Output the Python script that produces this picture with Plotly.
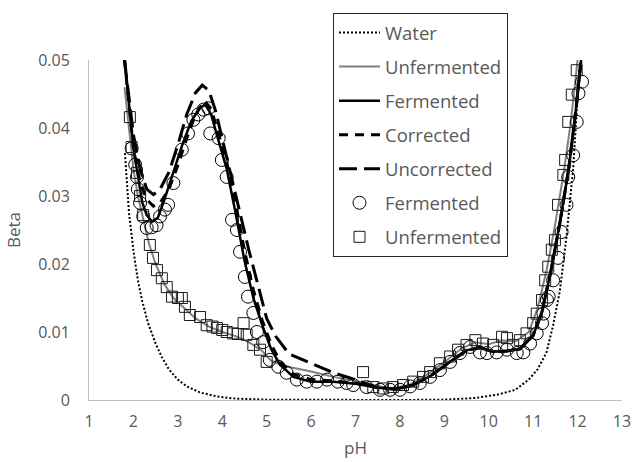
import plotly.graph_objects as go

# ---------------- data ----------------
water_ph = [1.81, 1.9, 2.0, 2.1, 2.2, 2.33, 2.5, 2.64, 2.8, 3.0, 3.2, 3.5, 3.9, 4.3, 5.0, 6.0,
            7.0, 8.0, 9.0, 9.7, 10.2, 10.6, 10.9, 11.1, 11.3, 11.45, 11.6, 11.75, 11.9, 12.05]
water_beta = [0.0363, 0.0275, 0.0220, 0.0176, 0.0145, 0.0113, 0.0083, 0.0063, 0.0045, 0.0030,
              0.0020, 0.0011, 0.0005, 0.0002, 0.00005, 0.0, 0.0, 0.0, 0.00005, 0.0003, 0.0008,
              0.0015, 0.0030, 0.0045, 0.0070, 0.0110, 0.0160, 0.0240, 0.0340, 0.0496]

unf_line_ph = [1.80, 1.9, 2.0, 2.1, 2.2, 2.35, 2.5, 2.7, 2.9, 3.1, 3.4, 3.7, 4.0, 4.3, 4.6, 4.9,
               5.1, 5.4, 6.0, 6.5, 7.0, 7.4, 7.8, 8.2, 8.6, 9.0, 9.4, 9.7, 10.0, 10.3, 10.6,
               10.9, 11.1, 11.3, 11.5, 11.7, 11.85, 12.0]
unf_line_beta = [0.046, 0.040, 0.034, 0.030, 0.027, 0.023, 0.020, 0.0170, 0.0150, 0.0138, 0.0120,
                 0.0108, 0.0100, 0.0094, 0.0085, 0.0072, 0.0058, 0.0050, 0.0042, 0.0034, 0.0028,
                 0.0022, 0.0017, 0.0022, 0.0037, 0.0056, 0.0076, 0.0085, 0.0082, 0.0088, 0.0086,
                 0.0100, 0.0135, 0.0190, 0.0260, 0.0340, 0.0410, 0.0500]

ferm_line_ph = [1.80, 1.9, 2.0, 2.1, 2.2, 2.3, 2.42, 2.55, 2.7, 2.9, 3.1, 3.3, 3.5, 3.62, 3.75,
                3.9, 4.1, 4.3, 4.5, 4.7, 4.9, 5.1, 5.3, 5.6, 6.0, 6.5, 7.0, 7.5, 7.9, 8.3, 8.7,
                9.1, 9.5, 9.8, 10.1, 10.4, 10.7, 11.0, 11.2, 11.4, 11.6, 11.8, 11.95, 12.08]
ferm_line_beta = [0.050, 0.043, 0.037, 0.033, 0.029, 0.0272, 0.0262, 0.0268, 0.0295, 0.0335,
                  0.0375, 0.0410, 0.0430, 0.0434, 0.0420, 0.0385, 0.0340, 0.0275, 0.0205,
                  0.0150, 0.0110, 0.0075, 0.0052, 0.0034, 0.0027, 0.0027, 0.0024, 0.0018,
                  0.0016, 0.0022, 0.0036, 0.0055, 0.0073, 0.0077, 0.0071, 0.0072, 0.0075,
                  0.0095, 0.0130, 0.0190, 0.0260, 0.0340, 0.0420, 0.0500]

tail_ph = [7.5, 7.9, 8.3, 8.7, 9.1, 9.5, 9.8, 10.1, 10.4, 10.7, 11.0, 11.2, 11.4, 11.6, 11.8,
           11.95, 12.08]
tail_beta = [0.0018, 0.0016, 0.0022, 0.0036, 0.0055, 0.0073, 0.0077, 0.0071, 0.0072, 0.0075,
             0.0095, 0.0130, 0.0190, 0.0260, 0.0340, 0.0420, 0.0500]

corr_ph = [1.80, 1.9, 2.0, 2.15, 2.3, 2.45, 2.6, 2.8, 3.0, 3.2, 3.4, 3.6, 3.75, 3.9, 4.1, 4.3,
           4.5, 4.7, 4.9, 5.1, 5.3, 5.6, 6.0, 6.5, 7.0] + tail_ph
corr_beta = [0.050, 0.043, 0.037, 0.032, 0.0295, 0.0285, 0.0290, 0.0310, 0.0345, 0.0385, 0.0420,
             0.0440, 0.0428, 0.0395, 0.0350, 0.0290, 0.0220, 0.0162, 0.0117, 0.0082, 0.0057,
             0.0038, 0.0030, 0.0028, 0.0025] + tail_beta

uncorr_ph = [1.80, 1.9, 2.0, 2.15, 2.3, 2.45, 2.6, 2.8, 3.0, 3.2, 3.4, 3.55, 3.7, 3.85, 4.0,
             4.2, 4.4, 4.6, 4.8, 5.0, 5.2, 5.5, 6.0, 6.5, 7.0] + tail_ph
uncorr_beta = [0.050, 0.044, 0.039, 0.034, 0.031, 0.0302, 0.0310, 0.0335, 0.0375, 0.0420,
               0.0452, 0.0463, 0.0455, 0.0425, 0.0385, 0.0330, 0.0275, 0.0220, 0.0172, 0.0120,
               0.0094, 0.0068, 0.0054, 0.0040, 0.0030] + tail_beta

ferm_pts_ph = [1.96, 2.04, 2.08, 2.10, 2.15, 2.22, 2.30, 2.41, 2.52, 2.60, 2.71, 2.78, 2.90,
               3.09, 3.23, 3.35, 3.46, 3.58, 3.69, 3.73, 3.92, 3.99, 4.10, 4.22, 4.33, 4.40,
               4.51, 4.58, 4.70, 4.78, 4.92, 5.07, 5.26, 5.45, 5.68, 5.90, 6.13, 6.36, 6.60,
               6.80, 6.95, 7.25, 7.55, 7.78, 8.00, 8.23, 8.45, 8.68, 8.90, 9.13, 9.35, 9.58,
               9.80, 9.96, 10.18, 10.41, 10.63, 10.78, 10.93, 11.08, 11.20, 11.23, 11.31,
               11.35, 11.45, 11.56, 11.64, 11.75, 11.79, 11.90, 11.98, 12.02, 12.10]
ferm_pts_beta = [0.0370, 0.0346, 0.0328, 0.0310, 0.0290, 0.0270, 0.0253, 0.0254, 0.0257,
                 0.0270, 0.0280, 0.0287, 0.0319, 0.0368, 0.0392, 0.0412, 0.0420, 0.0427,
                 0.0429, 0.0392, 0.0385, 0.0353, 0.0328, 0.0265, 0.0250, 0.0218, 0.0181,
                 0.0152, 0.0128, 0.0100, 0.0085, 0.0059, 0.0049, 0.0040, 0.0030, 0.0027,
                 0.0027, 0.0030, 0.0027, 0.0025, 0.0022, 0.0019, 0.0015, 0.0015, 0.0015,
                 0.0020, 0.0025, 0.0034, 0.0044, 0.0056, 0.0069, 0.0078, 0.0070, 0.0069,
                 0.0070, 0.0074, 0.0069, 0.0070, 0.0083, 0.0098, 0.0113, 0.0127, 0.0147,
                 0.0152, 0.0176, 0.0209, 0.0247, 0.0287, 0.0328, 0.0360, 0.0409, 0.0451, 0.0468]

unf_pts_ph = [1.92, 1.96, 2.08, 2.15, 2.22, 2.37, 2.44, 2.53, 2.64, 2.75, 2.87, 3.0, 3.09, 3.16,
              3.27, 3.5, 3.65, 3.78, 3.88, 4.0, 4.1, 4.24, 4.35, 4.48, 4.55, 4.7, 4.85, 5.0,
              7.17, 7.4, 7.62, 7.84, 8.07, 8.3, 8.52, 8.68, 8.9, 9.13, 9.31, 9.5, 9.7, 9.87,
              10.1, 10.3, 10.41, 10.55, 10.7, 10.85, 11.0, 11.08, 11.2, 11.27, 11.34, 11.42,
              11.49, 11.56, 11.68, 11.72, 11.79, 11.87, 11.98]
unf_pts_beta = [0.0416, 0.0372, 0.0334, 0.0300, 0.0272, 0.0228, 0.0209, 0.0191, 0.0179, 0.0166,
                0.0152, 0.0150, 0.0150, 0.0137, 0.0125, 0.0122, 0.0110, 0.0108, 0.0106, 0.0103,
                0.0100, 0.0098, 0.0097, 0.0113, 0.0096, 0.0081, 0.0074, 0.0056, 0.0041, 0.0019,
                0.0017, 0.0019, 0.0022, 0.0027, 0.0034, 0.0041, 0.0054, 0.0064, 0.0074, 0.0081,
                0.0088, 0.0083, 0.0081, 0.0093, 0.0091, 0.0081, 0.0088, 0.0098, 0.0113, 0.0127,
                0.0147, 0.0176, 0.0196, 0.0221, 0.0235, 0.0287, 0.0331, 0.0353, 0.0409, 0.0449,
                0.0485]

x_ticks = list(range(1, 14))
y_ticks = [0, 0.01, 0.02, 0.03, 0.04, 0.05]
y_tick_text = ["0", "0.01", "0.02", "0.03", "0.04", "0.05"]

# ---------------- figure ----------------
FONT = "Open Sans, Noto Sans, sans-serif"
TXT = "#595959"

fig = go.Figure()
fig.add_trace(go.Scatter(x=water_ph, y=water_beta, mode="lines", name="Water",
                         legendgroup="g1",
                         line=dict(color="black", width=2, dash="2px,2px")))
fig.add_trace(go.Scatter(x=unf_line_ph, y=unf_line_beta, mode="lines", name="Unfermented",
                         legendgroup="g2",
                         line=dict(color="#808080", width=2)))
fig.add_trace(go.Scatter(x=ferm_line_ph, y=ferm_line_beta, mode="lines", name="Fermented",
                         legendgroup="g3",
                         line=dict(color="black", width=2.5)))
fig.add_trace(go.Scatter(x=corr_ph, y=corr_beta, mode="lines", name="Corrected",
                         legendgroup="g4",
                         line=dict(color="black", width=3, dash="9px,7px")))
fig.add_trace(go.Scatter(x=uncorr_ph, y=uncorr_beta, mode="lines", name="Uncorrected",
                         legendgroup="g5",
                         line=dict(color="black", width=3, dash="18px,7px")))
fig.add_trace(go.Scatter(x=ferm_pts_ph, y=ferm_pts_beta, mode="markers", name="Fermented",
                         legendgroup="g6",
                         marker=dict(symbol="circle-open", size=13, color="black",
                                     line=dict(width=1, color="black"))))
fig.add_trace(go.Scatter(x=unf_pts_ph, y=unf_pts_beta, mode="markers", name="Unfermented",
                         legendgroup="g7",
                         marker=dict(symbol="square-open", size=11, color="#1a1a1a",
                                     line=dict(width=1, color="#1a1a1a"))))

fig.update_layout(
    width=636, height=462,
    margin=dict(l=89, r=14, t=60, b=62, autoexpand=False),
    paper_bgcolor="white", plot_bgcolor="white",
    font=dict(family=FONT, color=TXT, size=16),
    showlegend=True,
    legend=dict(
        x=(333 - 89) / 533, y=(400 - 13) / 340, xanchor="left", yanchor="top",
        bgcolor="white", bordercolor="#262626", borderwidth=1,
        font=dict(family=FONT, size=18.5, color=TXT),
        traceorder="grouped", tracegroupgap=7, itemwidth=41,
        maxheight=1,
    ),
    xaxis=dict(
        range=[1, 13], tickmode="array", tickvals=x_ticks,
        showgrid=False, zeroline=False, automargin=False,
        showline=True, linecolor="#bfbfbf", linewidth=1,
        ticks="", ticklabelstandoff=7,
        tickfont=dict(size=16, color=TXT),
        title=dict(text="pH", font=dict(size=17, color=TXT), standoff=10),
    ),
    yaxis=dict(
        range=[0, 0.05], tickmode="array", tickvals=y_ticks, ticktext=y_tick_text,
        showgrid=False, zeroline=False, automargin=False,
        showline=True, linecolor="#bfbfbf", linewidth=1,
        ticks="", ticklabelstandoff=15,
        tickfont=dict(size=16, color=TXT),
        title=dict(text="Beta", font=dict(size=17, color=TXT), standoff=13),
    ),
)

fig.write_html("out.html")
